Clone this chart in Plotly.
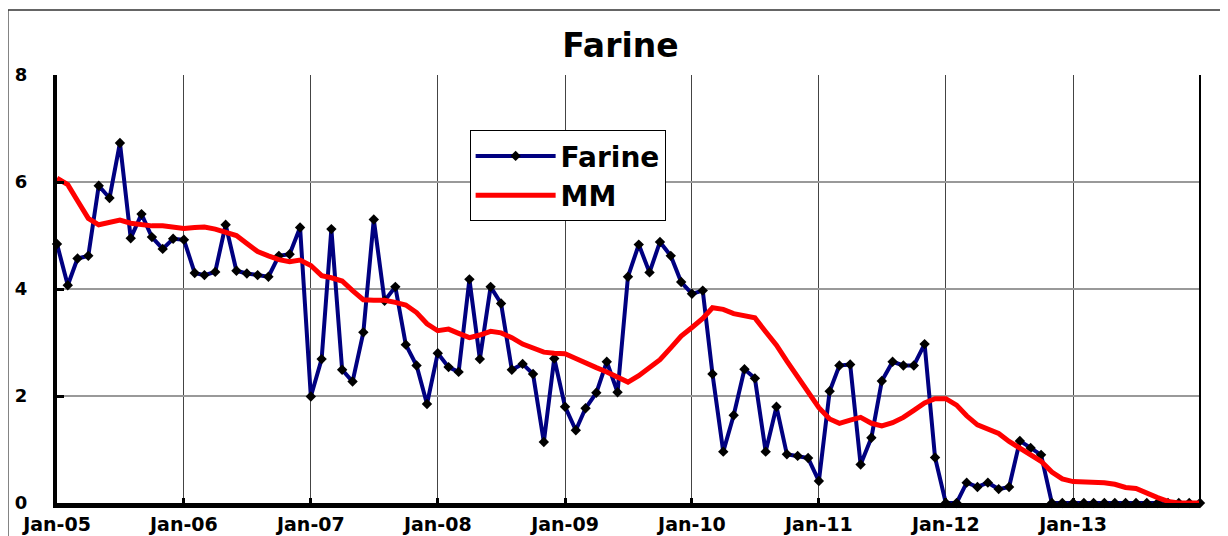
import pandas as pd
import plotly.graph_objects as go

mois = pd.date_range("2005-01-01", periods=109, freq="MS")

farine = [4.84, 4.07, 4.57, 4.62, 5.93, 5.70, 6.73, 4.95, 5.40, 4.97, 4.75, 4.94,
          4.92, 4.30, 4.26, 4.32, 5.20, 4.34, 4.29, 4.26, 4.23, 4.62, 4.65, 5.15,
          1.99, 2.69, 5.12, 2.49, 2.27, 3.19, 5.30, 3.78, 4.04, 2.96, 2.57, 1.85,
          2.80, 2.54, 2.45, 4.18, 2.69, 4.04, 3.73, 2.49, 2.60, 2.41, 1.14, 2.70,
          1.80, 1.36, 1.77, 2.06, 2.64, 2.07, 4.23, 4.83, 4.31, 4.88, 4.62, 4.13,
          3.91, 3.97, 2.41, 0.96, 1.64, 2.50, 2.33, 0.96, 1.80, 0.91, 0.88, 0.84,
          0.41, 2.09, 2.57, 2.59, 0.72, 1.22, 2.28, 2.64, 2.57, 2.57, 2.97, 0.85,
          0.00, 0.00, 0.38, 0.30, 0.38, 0.26, 0.30, 1.16, 1.03, 0.90, 0.00, 0.00,
          0.00, 0.00, 0.00, 0.00, 0.00, 0.00, 0.00, 0.00, 0.00, 0.00, 0.00, 0.00,
          0.00]

mm = [6.07, 5.95, 5.65, 5.32, 5.20, 5.25, 5.29, 5.23, 5.20, 5.18, 5.18, 5.15,
      5.13, 5.15, 5.16, 5.12, 5.07, 5.00, 4.85, 4.70, 4.62, 4.55, 4.51, 4.54,
      4.44, 4.25, 4.21, 4.15, 3.97, 3.80, 3.79, 3.79, 3.75, 3.70, 3.56, 3.35,
      3.22, 3.25, 3.17, 3.09, 3.14, 3.21, 3.18, 3.09, 2.97, 2.90, 2.82, 2.80,
      2.79, 2.70, 2.61, 2.53, 2.45, 2.36, 2.26, 2.38, 2.52, 2.68, 2.90, 3.12,
      3.28, 3.45, 3.65, 3.62, 3.54, 3.51, 3.46, 3.20, 2.95, 2.65, 2.36, 2.07,
      1.78, 1.57, 1.49, 1.55, 1.60, 1.49, 1.44, 1.50, 1.60, 1.73, 1.87, 1.95,
      1.95, 1.83, 1.63, 1.46, 1.38, 1.30, 1.15, 1.02, 0.90, 0.78, 0.58, 0.45,
      0.40, 0.40, 0.40, 0.38, 0.35, 0.29, 0.27, 0.18, 0.10, 0.03, 0.00, 0.00,
      0.00]

annees = pd.date_range("2005-01-01", "2013-01-01", freq="YS")
yticks = [0, 2, 4, 6, 8]

police = "DejaVu Sans"

fig = go.Figure()
fig.add_trace(go.Scatter(
    x=mois, y=farine, name="Farine", mode="lines+markers",
    line=dict(color="#000080", width=4),
    marker=dict(symbol="diamond", size=8, color="black"),
    cliponaxis=False
))
fig.add_trace(go.Scatter(
    x=mois, y=mm, name="MM", mode="lines",
    line=dict(color="#ff0000", width=5),
    cliponaxis=False
))

# la page ajoute 8 px de marge autour du graphique
fig.update_layout(
    width=1220, height=528,
    margin=dict(l=49, r=28, t=67, b=33),
    paper_bgcolor="white", plot_bgcolor="white",
    font=dict(family=police, color="black", weight="bold"),
    title=dict(text="Farine", x=0.502, xref="container", y=0.93, yref="container",
               xanchor="center", yanchor="middle",
               font=dict(size=33, family=police, weight="bold")),
    legend=dict(x=0.361, y=0.871, xanchor="left", yanchor="top",
                bgcolor="white", bordercolor="black", borderwidth=1,
                font=dict(size=28, family=police, weight="bold"),
                itemwidth=80, tracegroupgap=0),
    xaxis=dict(range=["2005-01-01", "2014-01-01"], tickvals=annees, tickformat="%b-%y",
               showgrid=True, gridcolor="#444444", gridwidth=1, automargin=False,
               showline=True, linecolor="black", linewidth=5,
               ticks="inside", ticklen=5, tickwidth=3, tickcolor="black",
               ticklabelstandoff=0, tickfont=dict(size=19)),
    yaxis=dict(range=[0, 8], tickvals=yticks, automargin=False,
               showgrid=True, gridcolor="#999999", gridwidth=2, zeroline=False,
               showline=True, linecolor="black", linewidth=4,
               ticks="inside", ticklen=7, tickwidth=3, tickcolor="black",
               ticklabelstandoff=22, tickfont=dict(size=18)),
    showlegend=True
)

# bord droit de la zone de tracé et cadre extérieur du graphique
fig.add_shape(type="line", xref="paper", yref="paper", x0=1, x1=1, y0=0, y1=1,
              line=dict(color="black", width=2))
fig.add_shape(type="rect", xref="paper", yref="paper", x0=-0.043, x1=1.2, y0=-0.3, y1=1.152,
              line=dict(color="#333333", width=1.5), layer="below")

fig.write_html("out.html")
